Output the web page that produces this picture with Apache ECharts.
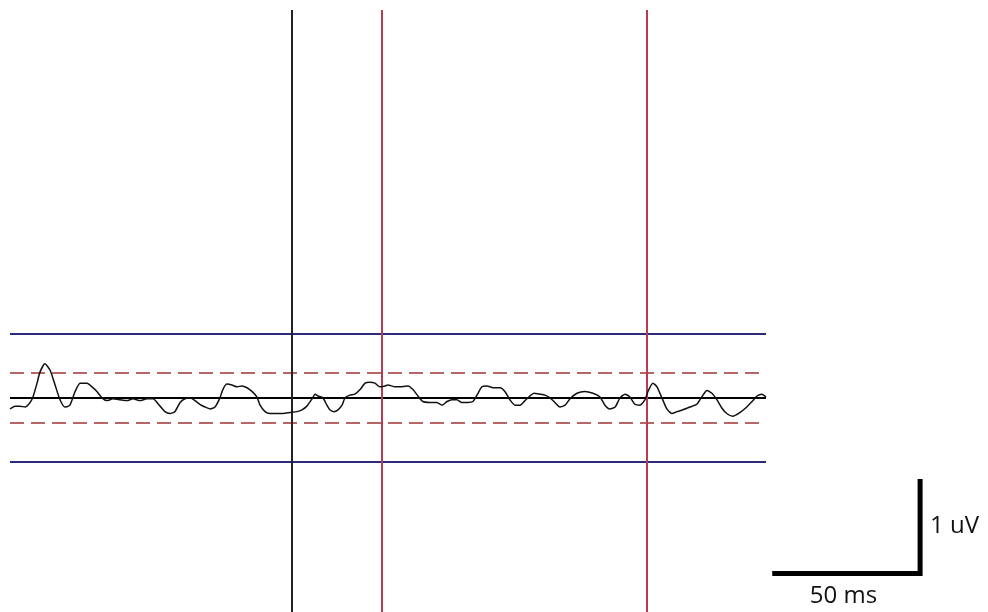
<!DOCTYPE html>
<html>
<head>
<meta charset="utf-8">
<script src="https://cdn.jsdelivr.net/npm/echarts@6/dist/echarts.min.js"></script>
<style>
  html, body { margin: 0; padding: 0; background: #ffffff; }
  #chart { width: 988px; height: 612px; }
</style>
</head>
<body>
<div id="chart"></div>
<script>
// Averaged evoked response: time (ms) and amplitude (uV)
const timesMs = [
  -97.0, -95.3, -93.6, -91.8, -90.1, -89.1, -87.7, -86.7, -85.0, -83.2,
  -81.5, -79.8, -78.1, -76.4, -74.6, -72.9, -70.5, -68.8, -67.1, -65.4,
  -63.6, -61.6, -59.2, -56.8, -54.7, -52.3, -49.9, -47.8, -45.4, -43.7,
  -42.0, -40.3, -38.5, -36.8, -35.1, -33.4, -31.7, -29.9, -28.2, -26.5,
  -24.8, -23.8, -22.4, -20.7, -18.9, -17.2, -15.5, -13.8, -12.1, -11.0,
  -9.3, -7.6, -5.2, -3.1, -0.7, 1.7, 3.4, 5.1, 6.9, 7.9,
  8.9, 10.6, 12.0, 13.0, 14.4, 15.8, 17.2, 18.2, 19.9, 21.6,
  23.4, 25.1, 26.8, 28.5, 30.2, 32.0, 33.0, 35.4, 37.8, 39.9,
  41.6, 43.3, 45.0, 47.4, 49.8, 51.6, 53.3, 55.0, 56.7, 58.4,
  60.5, 62.2, 63.6, 65.3, 67.0, 69.1, 71.5, 73.2, 74.9, 76.7,
  78.4, 80.1, 81.8, 83.2, 85.3, 87.0, 88.7, 90.4, 92.1, 93.9,
  95.6, 98.0, 100.7, 103.5, 105.9, 107.6, 109.3, 111.1, 112.8, 114.5,
  116.2, 117.9, 119.6, 121.4, 122.4, 124.1, 125.5, 127.2, 128.9, 130.6,
  132.4, 134.4, 136.8, 139.2, 140.9, 142.7, 144.4, 146.1, 147.8, 149.5,
  151.6, 154.0, 156.4, 158.2, 159.9, 161.6, 163.0
];
const amplitudeUv = [
  -0.12, -0.09, -0.09, -0.10, -0.05, 0.01, 0.16, 0.28, 0.37, 0.30,
  0.14, -0.02, -0.10, -0.08, 0.07, 0.16, 0.16, 0.12, 0.07, 0.00,
  -0.03, -0.01, -0.02, -0.03, -0.01, -0.03, -0.01, -0.01, -0.09, -0.15,
  -0.17, -0.15, -0.05, -0.01, 0.00, -0.03, -0.07, -0.10, -0.12, -0.10,
  0.00, 0.09, 0.15, 0.14, 0.12, 0.13, 0.11, 0.07, 0.01, -0.08,
  -0.15, -0.17, -0.17, -0.17, -0.16, -0.15, -0.13, -0.09, -0.01, 0.04,
  0.02, 0.00, -0.08, -0.13, -0.15, -0.13, -0.08, 0.00, 0.03, 0.04,
  0.09, 0.16, 0.17, 0.16, 0.12, 0.13, 0.14, 0.12, 0.12, 0.13,
  0.09, 0.02, -0.04, -0.05, -0.05, -0.08, -0.04, -0.02, -0.02, -0.05,
  -0.05, -0.04, 0.03, 0.12, 0.13, 0.11, 0.11, 0.07, -0.02, -0.08,
  -0.08, -0.03, 0.02, 0.05, 0.04, 0.03, 0.00, -0.05, -0.10, -0.08,
  -0.01, 0.05, 0.07, 0.05, 0.01, -0.08, -0.12, -0.10, 0.00, 0.04,
  0.01, -0.07, -0.08, -0.02, 0.07, 0.16, 0.12, 0.00, -0.12, -0.17,
  -0.15, -0.13, -0.10, -0.07, 0.01, 0.08, 0.05, -0.02, -0.11, -0.17,
  -0.20, -0.16, -0.10, -0.04, 0.02, 0.04, 0.01
];

// Event markers (ms): stimulus onset, then two latency cursors
const stimulusMs = 0;
const cursorMs = [31, 122];

// Threshold bands (uV)
const outerLimitUv = 0.70;
const innerLimitUv = 0.27;

// Calibration bar: 50 ms by 1 uV
const scaleBarTimeMs = [166, 216];
const scaleBarAmpUv = [-1.91, -0.91];
const scaleBarLabels = ['50 ms', '1 uV'];

const traceData = timesMs.map((t, i) => [t, amplitudeUv[i]]);

const chart = echarts.init(document.getElementById('chart'), null, { renderer: 'canvas' });

const option = {
  backgroundColor: '#ffffff',
  animation: false,
  grid: { left: 10, right: 222, top: 10, bottom: 0 },
  xAxis: {
    type: 'value', min: -97, max: 163,
    show: false, splitLine: { show: false }
  },
  yAxis: {
    type: 'value', min: -2.33, max: 4.22,
    show: false, splitLine: { show: false }
  },
  series: [
    {
      name: 'markers',
      type: 'line',
      data: [],
      silent: true,
      markLine: {
        symbol: 'none',
        silent: true,
        label: { show: false },
        data: [
          { yAxis: outerLimitUv, lineStyle: { color: '#2b2b7c', width: 2, type: 'solid' } },
          { yAxis: -outerLimitUv, lineStyle: { color: '#2b2b7c', width: 2, type: 'solid' } },
          { yAxis: innerLimitUv, lineStyle: { color: '#9e3434', width: 1.6, type: [14, 7] } },
          { yAxis: -innerLimitUv, lineStyle: { color: '#9e3434', width: 1.6, type: [14, 7] } },
          { yAxis: 0, lineStyle: { color: '#000000', width: 2, type: 'solid' } },
          { xAxis: stimulusMs, lineStyle: { color: '#222222', width: 2, type: 'solid' } },
          { xAxis: cursorMs[0], lineStyle: { color: '#b83a55', width: 2, type: 'solid' } },
          { xAxis: cursorMs[1], lineStyle: { color: '#b83a55', width: 2, type: 'solid' } }
        ]
      }
    },
    {
      name: 'response',
      type: 'line',
      data: traceData,
      showSymbol: false,
      smooth: 0.2,
      lineStyle: { color: '#111111', width: 1.5 },
      z: 5
    }
  ]
};

chart.setOption(option);

// Calibration bar and its labels, positioned through the chart's own scales
const toPx = (t, v) => chart.convertToPixel({ gridIndex: 0 }, [t, v]);
const pBottomLeft = toPx(scaleBarTimeMs[0], scaleBarAmpUv[0]);
const pBottomRight = toPx(scaleBarTimeMs[1], scaleBarAmpUv[0]);
const pTop = toPx(scaleBarTimeMs[1], scaleBarAmpUv[1]);

chart.setOption({
  graphic: [
    {
      type: 'polyline',
      shape: { points: [pBottomLeft, pBottomRight, pTop] },
      style: { stroke: '#000000', lineWidth: 5, fill: null, lineJoin: 'miter', lineCap: 'square' },
      z: 10
    },
    {
      type: 'text',
      x: (pBottomLeft[0] + pBottomRight[0]) / 2 - 4,
      y: pBottomRight[1] + 23,
      style: {
        text: scaleBarLabels[0],
        font: '24px "Open Sans", sans-serif',
        fill: '#111111',
        align: 'center',
        verticalAlign: 'middle'
      }
    },
    {
      type: 'text',
      x: pTop[0] + 10,
      y: (pTop[1] + pBottomRight[1]) / 2 - 1,
      style: {
        text: scaleBarLabels[1],
        font: '24px "Open Sans", sans-serif',
        fill: '#111111',
        align: 'left',
        verticalAlign: 'middle'
      }
    }
  ]
});
</script>
</body>
</html>
